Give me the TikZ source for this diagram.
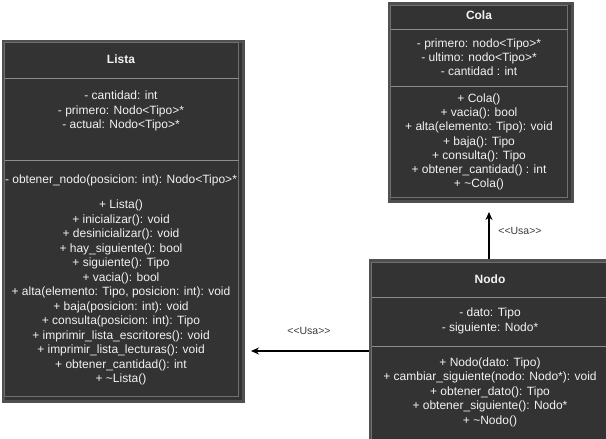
\documentclass[tikz,border=0pt]{standalone}
\usepackage{fontspec}
\setmainfont{Liberation Sans}
\usetikzlibrary{positioning}
\usetikzlibrary{arrows.meta}
\definecolor{boxfill}{HTML}{333333}
\definecolor{boxedge}{HTML}{505050}
\definecolor{boxline}{HTML}{707070}
\definecolor{sepgray}{HTML}{8C8C8C}
\definecolor{textwhite}{HTML}{F2F2F2}
\definecolor{labelgray}{HTML}{3A3A3A}
\newcommand{\lt}{\textless}
\newcommand{\gt}{\textgreater}
\newcommand{\usalabel}{\textless\kern0pt\textless Usa\textgreater\kern0pt\textgreater}
\tikzset{
  classbox/.style={draw=boxedge, line width=3pt, fill=boxfill, anchor=north west, inner sep=0pt},
  innerline/.style={draw=boxline, line width=0.8pt},
  sepline/.style={draw=sepgray, line width=0.8pt},
  member/.style={text=textwhite, align=center, inner sep=0pt, font=\fontsize{12}{14.5}\selectfont},
  classtitle/.style={member, font=\fontsize{12}{14.5}\selectfont\bfseries},
  usa/.style={-{Stealth[length=8pt,width=7pt]}, line width=1.2pt},
  stereo/.style={text=labelgray, inner sep=0pt, font=\fontsize{10.5}{13}\selectfont},
}

\begin{document}
\begin{tikzpicture}[x=1pt,y=-1pt]
  \useasboundingbox (0,0) rectangle (606,439);

  % Lista
  \node[classbox, minimum width=240pt, minimum height=360pt] (lista) at (1.5,39.5) {};
  \draw[innerline] (4.5,42.5) rectangle (238.5,396.5);
  \draw[sepline] (4.5,78) -- (238.5,78);
  \draw[sepline] (4.5,160) -- (238.5,160);
  \node[classtitle] (listatitle) at (121,59) {Lista};
  \node[member] (listaattr) at (121,111) {- cantidad: int\\- primero: Nodo\lt Tipo\gt*\\- actual: Nodo\lt Tipo\gt*};
  \node[member] (listapriv) at (121,180) {- obtener\_nodo(posicion: int): Nodo\lt Tipo\gt*};
  \node[member] (listaops) at (121,292.5) {+ Lista()\\+ inicializar(): void\\+ desinicializar(): void\\+ hay\_siguiente(): bool\\+ siguiente(): Tipo\\+ vacia(): bool\\+ alta(elemento: Tipo, posicion: int): void\\+ baja(posicion: int): void\\+ consulta(posicion: int): Tipo\\+ imprimir\_lista\_escritores(): void\\+ imprimir\_lista\_lecturas(): void\\+ obtener\_cantidad(): int\\+ \textasciitilde Lista()};

  % Cola
  \node[classbox, minimum width=183pt, minimum height=198pt] (cola) at (387.5,2) {};
  \draw[innerline] (390.5,5) rectangle (567.5,197);
  \draw[sepline] (390.5,29) -- (567.5,29);
  \draw[sepline] (390.5,86) -- (567.5,86);
  \node[classtitle] (colatitle) at (479,15) {Cola};
  \node[member, font=\fontsize{12}{14.1}\selectfont] (colaattr) at (479,57) {- primero: nodo\lt Tipo\gt*\\- ultimo: nodo\lt Tipo\gt*\\- cantidad : int};
  \node[member, font=\fontsize{12}{14.2}\selectfont] (colaops) at (479,142) {+ Cola()\\+ vacia(): bool\\+ alta(elemento: Tipo): void\\+ baja(): Tipo\\+ consulta(): Tipo\\+ obtener\_cantidad() : int\\+ \textasciitilde Cola()};

  % Nodo
  \node[classbox, minimum width=244pt, minimum height=190pt] (nodo) at (368.5,259) {};
  \draw[innerline] (371.5,262) rectangle (615,460);
  \draw[sepline] (371.5,297) -- (615,297);
  \draw[sepline] (371.5,346) -- (615,346);
  \node[classtitle] (nodotitle) at (490,279) {Nodo};
  \node[member] (nodoattr) at (490,321) {- dato: Tipo\\- siguiente: Nodo*};
  \node[member] (nodoops) at (490,392) {+ Nodo(dato: Tipo)\\+ cambiar\_siguiente(nodo: Nodo*): void\\+ obtener\_dato(): Tipo\\+ obtener\_siguiente(): Nodo*\\+ \textasciitilde Nodo()};

  % relaciones
  \coordinate (colaend) at (489,212);
  \coordinate (listaend) at (251,351);
  \draw[usa] (nodo.north -| colaend) -- (colaend);
  \draw[usa] (nodo.west |- listaend) -- (listaend);
  \node[stereo] (usacola) at (520,231) {\usalabel};
  \node[stereo] (usalista) at (309,331) {\usalabel};
\end{tikzpicture}
\end{document}
